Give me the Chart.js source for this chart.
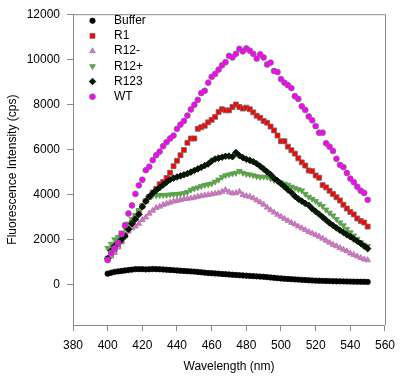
<!DOCTYPE html>
<html>
<head>
<meta charset="utf-8">
<script src="https://cdn.jsdelivr.net/npm/chart.js@4.4.1/dist/chart.umd.min.js"></script>
<style>
  body { margin: 0; background: #fff; }
</style>
</head>
<body>
<canvas id="myChart" width="402" height="376"></canvas>
<script>
// wavelengths (nm)
const wavelengths = [
  400,402,404,406,408,410,412,414,416,418,
  420,422,424,426,428,430,432,434,436,438,
  440,442,444,446,448,450,452,454,456,458,
  460,462,464,466,468,470,472,474,476,478,
  480,482,484,486,488,490,492,494,496,498,
  500,502,504,506,508,510,512,514,516,518,
  520,522,524,526,528,530,532,534,536,538,
  540,542,544,546,548,550];

const buffer = [
  480,520,560,580,600,620,640,660,680,680,
  680,670,675,685,680,675,665,655,645,635,
  620,610,600,590,580,570,555,540,525,510,
  500,490,480,465,455,445,430,420,410,400,
  390,380,370,360,350,340,325,310,295,280,
  265,255,245,235,225,215,205,195,185,178,
  170,165,160,155,150,145,140,138,135,130,
  128,125,122,120,118,113];

const r1 = [
  1150,1330,1520,1700,1920,2180,2450,2750,3000,3250,
  3480,3700,3880,4080,4250,4450,4550,4730,4960,5250,
  5490,5740,5970,6290,6480,6480,6910,6980,7050,7200,
  7310,7440,7660,7780,7730,7730,7880,7990,7880,7810,
  7850,7780,7640,7490,7400,7260,7180,7010,6840,6610,
  6360,6360,6120,5960,5810,5600,5420,5280,5060,5030,
  4840,4740,4410,4310,4160,4020,3870,3730,3540,3370,
  3220,3110,2930,2820,2750,2570];

const r12minus = [
  1100,1250,1400,1650,1950,2150,2350,2500,2580,2700,
  2870,2980,3150,3280,3400,3460,3540,3590,3640,3690,
  3720,3760,3790,3810,3830,3860,3900,3930,3960,3980,
  4010,4040,4060,4120,4200,4100,4050,4060,4120,3980,
  3930,3900,3830,3740,3650,3550,3420,3300,3200,3100,
  3010,2920,2830,2740,2670,2580,2500,2420,2340,2270,
  2200,2130,2040,1950,1860,1770,1700,1620,1550,1480,
  1380,1320,1250,1180,1120,1080];

const r12plus = [
  1620,1800,2000,2100,2300,2500,2700,2900,3080,3300,
  3500,3700,3900,3950,3950,3960,3970,3970,3990,4000,
  4010,4030,4050,4100,4200,4260,4300,4360,4410,4440,
  4480,4560,4650,4770,4840,4880,4920,4950,5030,4950,
  4900,4880,4840,4800,4770,4780,4770,4700,4630,4580,
  4520,4470,4420,4340,4280,4220,4170,4020,3890,3800,
  3700,3580,3480,3320,3180,3060,2900,2750,2620,2460,
  2310,2170,2020,1870,1750,1700];

const r123 = [
  1150,1500,1700,1850,2000,2150,2450,2700,2900,3110,
  3450,3700,3900,4050,4180,4300,4420,4540,4650,4720,
  4770,4820,4870,4920,4990,5060,5130,5200,5280,5350,
  5480,5570,5610,5650,5690,5700,5670,5860,5720,5630,
  5560,5510,5450,5360,5250,5130,5000,4880,4720,4600,
  4470,4340,4200,4080,3920,3790,3700,3600,3520,3360,
  3240,3120,2990,2860,2730,2620,2510,2410,2310,2210,
  2120,2020,1920,1820,1700,1590];

const wt = [
  1085,1400,1600,1850,2240,2630,3150,3510,4020,4400,
  4650,5075,5230,5520,5740,5900,6140,6320,6480,6610,
  6910,7100,7260,7500,7770,7980,8200,8500,8600,8960,
  9220,9350,9540,9730,9870,10150,10080,10240,10460,10350,
  10480,10380,10240,10030,10220,10080,9770,9850,9480,9430,
  9120,8960,8850,8720,8360,8240,7910,7750,7460,7290,
  7030,6740,6740,6270,6120,5930,5580,5310,5210,4950,
  4700,4540,4340,4160,4060,3760];

const seriesNames = ["Buffer", "R1", "R12-", "R12+", "R123", "WT"];
const xTicks = [380, 400, 420, 440, 460, 480, 500, 520, 540, 560];
const yTicks = [0, 2000, 4000, 6000, 8000, 10000, 12000];

const FONT = "'Liberation Sans', Arial, sans-serif";
const AXIS_GREY = "#8a8a8a";

const toPoints = (vals) => vals.map((v, i) => ({ x: wavelengths[i], y: v }));

const styles = [
  { style: "circle",   radius: 2.7, rot: 0,   fill: "#000000", edge: "#000000" },
  { style: "rect",     radius: 3.5, rot: 0,   fill: "#ff0000", edge: "#6a6a6a" },
  { style: "triangle", radius: 3.3, rot: 0,   fill: "#e46cd2", edge: "#a07a9a" },
  { style: "triangle", radius: 3.3, rot: 180, fill: "#48b828", edge: "#6a8a6a" },
  { style: "rectRot",  radius: 3.3, rot: 0,   fill: "#001a00", edge: "#000000" },
  { style: "circle",   radius: 2.9, rot: 0,   fill: "#ff00ff", edge: "#707070" }
];

const allSeries = [buffer, r1, r12minus, r12plus, r123, wt];

const datasets = allSeries.map((vals, i) => ({
  label: seriesNames[i],
  data: toPoints(vals),
  pointStyle: styles[i].style,
  pointRadius: styles[i].radius,
  pointRotation: styles[i].rot,
  backgroundColor: styles[i].fill,
  borderColor: styles[i].edge,
  borderWidth: 0.8,
  showLine: false,
  order: 5 - i
}));

// frame + legend inside the plot
const framePlugin = {
  id: "frame",
  afterDraw(chart) {
    const { ctx, chartArea: a } = chart;
    ctx.save();
    ctx.strokeStyle = AXIS_GREY;
    ctx.lineWidth = 1;
    ctx.beginPath();
    ctx.moveTo(a.left, a.top + 0.5);
    ctx.lineTo(a.right + 0.5, a.top + 0.5);
    ctx.lineTo(a.right + 0.5, a.bottom);
    ctx.stroke();

    ctx.font = "12px " + FONT;
    ctx.textBaseline = "middle";
    ctx.textAlign = "left";
    seriesNames.forEach((name, i) => {
      const y = 20.7 + i * 15.2;
      const s = styles[i];
      ctx.fillStyle = s.fill;
      ctx.strokeStyle = s.edge;
      ctx.lineWidth = 0.8;
      Chart.helpers.drawPoint(ctx, {
        pointStyle: s.style, radius: s.radius, rotation: s.rot, borderWidth: 0.8
      }, 92.5, y);
      ctx.fillStyle = "#000";
      ctx.fillText(name, 114, y);
    });
    ctx.restore();
  }
};

const ctx = document.getElementById("myChart").getContext("2d");
const myChart = new Chart(ctx, {
  type: "scatter",
  data: { datasets: datasets },
  options: {
    responsive: false,
    animation: false,
    layout: { padding: { left: 0, top: 7, right: 11, bottom: 0 } },
    plugins: { legend: { display: false }, tooltip: { enabled: false } },
    scales: {
      x: {
        type: "linear",
        min: 380,
        max: 560,
        afterFit: (axis) => { axis.height = 51; },
        afterBuildTicks: (axis) => { axis.ticks = xTicks.map(v => ({ value: v })); },
        grid: { drawOnChartArea: false, drawTicks: true, tickLength: 6, color: AXIS_GREY },
        border: { display: true, color: AXIS_GREY },
        ticks: {
          color: "#000", padding: 7, maxRotation: 0, font: { family: FONT, size: 12 },
          callback: (v) => String(v)
        },
        title: {
          display: true, text: "Wavelength (nm)", color: "#000",
          padding: { top: 0, bottom: 2 }, font: { family: FONT, size: 12 }
        }
      },
      y: {
        type: "linear",
        min: -1800,
        max: 12000,
        afterFit: (axis) => { axis.width = 73; },
        afterBuildTicks: (axis) => { axis.ticks = yTicks.map(v => ({ value: v })); },
        grid: { drawOnChartArea: false, drawTicks: true, tickLength: 6, color: AXIS_GREY },
        border: { display: true, color: AXIS_GREY },
        ticks: {
          color: "#000", padding: 7, font: { family: FONT, size: 12 },
          callback: (v) => String(v)
        },
        title: {
          display: true, text: "Fluorescence Intensity (cps)", color: "#000",
          padding: { top: 5, bottom: 0 }, font: { family: FONT, size: 12 }
        }
      }
    }
  },
  plugins: [framePlugin]
});
</script>
</body>
</html>
